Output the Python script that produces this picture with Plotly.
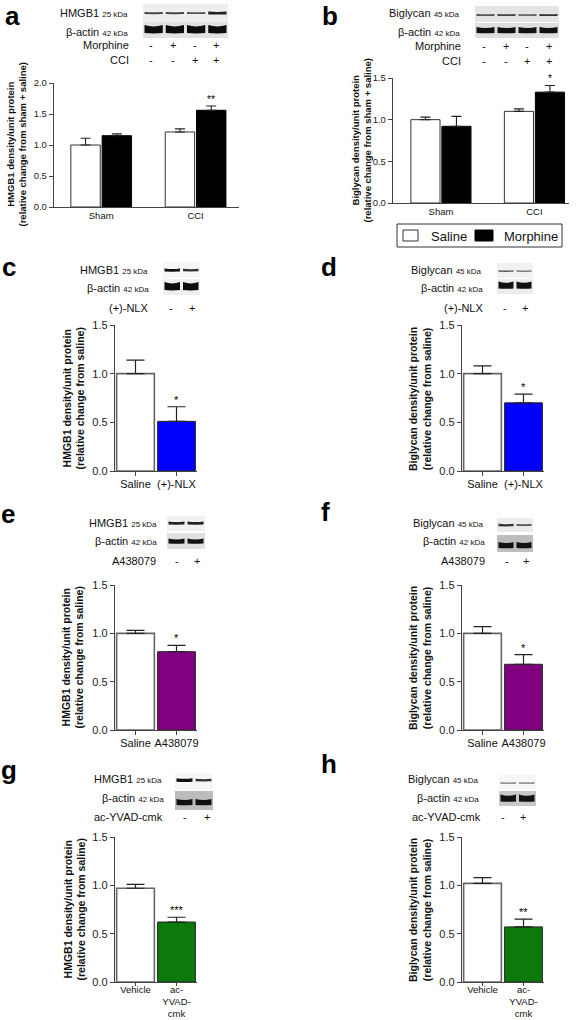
import plotly.graph_objects as go

W, H = 581, 1020
FONT = "Liberation Sans, Arial, sans-serif"

# ---------------- data ----------------
ab_groups = ["Sham", "CCI"]
a_saline = [1.00, 1.21]
a_saline_err = [0.11, 0.05]
a_morphine = [1.15, 1.56]
a_morphine_err = [0.03, 0.07]
a_stars = ["", "**"]

b_saline = [1.00, 1.10]
b_saline_err = [0.03, 0.03]
b_morphine = [0.92, 1.33]
b_morphine_err = [0.12, 0.08]
b_stars = ["", "*"]

legend_names = ["Saline", "Morphine"]

c_labels = ["Saline", "(+)-NLX"]
c_values = [1.00, 0.51]
c_err = [0.14, 0.15]
c_stars = ["", "*"]

d_labels = ["Saline", "(+)-NLX"]
d_values = [1.00, 0.70]
d_err = [0.08, 0.09]
d_stars = ["", "*"]

e_labels = ["Saline", "A438079"]
e_values = [1.00, 0.81]
e_err = [0.03, 0.065]
e_stars = ["", "*"]

f_labels = ["Saline", "A438079"]
f_values = [1.00, 0.68]
f_err = [0.07, 0.10]
f_stars = ["", "*"]

g_labels = ["Vehicle", "ac-<br>YVAD-<br>cmk"]
g_values = [0.97, 0.62]
g_err = [0.04, 0.05]
g_stars = ["", "***"]

h_labels = ["Vehicle", "ac-<br>YVAD-<br>cmk"]
h_values = [1.02, 0.57]
h_err = [0.06, 0.08]
h_stars = ["", "**"]

# ---------------- helpers ----------------
def px(x):
    return x / W


def py(y):
    return 1 - y / H


BARGAP = 0.337
BARGROUPGAP = 0.06

fig = go.Figure()
annotations = []
shapes = []

axis_common = dict(showline=True, linecolor="#444", linewidth=1.2, showgrid=False,
                   zeroline=False, tickcolor="#444", ticks="outside", automargin=False)


def add_axes(i, xdom, ydom, xrange, yrange, tickvals, ticktext, fs, xticks, standoff=0, xfs=None,
             xticklen=4):
    xa = "xaxis" if i == 1 else f"xaxis{i}"
    ya = "yaxis" if i == 1 else f"yaxis{i}"
    fig.layout[xa] = dict(axis_common, domain=[px(xdom[0]), px(xdom[1])],
                          anchor=f"y{i}" if i > 1 else "y", range=xrange,
                          tickvals=tickvals, ticktext=ticktext,
                          ticks="outside" if xticks else "", ticklen=xticklen if xticks else 0,
                          ticklabelstandoff=standoff,
                          tickfont=dict(size=xfs or fs, color="#111", family=FONT))
    fig.layout[ya] = dict(axis_common, domain=[py(ydom[1]), py(ydom[0])],
                          anchor=f"x{i}" if i > 1 else "x", range=yrange, dtick=0.5,
                          tickformat=".1f", ticklen=4,
                          tickfont=dict(size=fs, color="#222", family=FONT))


def ytitle(text, xc, yc, fs):
    annotations.append(dict(xref="paper", yref="paper", x=px(xc), y=py(yc), text=f"<b>{text}</b>",
                            textangle=-90, showarrow=False, font=dict(size=fs, family=FONT, color="#111"),
                            xanchor="center", yanchor="middle"))


def label(text, x, y, fs=11, anchor="right", bold=False, color="#111"):
    t = f"<b>{text}</b>" if bold else text
    annotations.append(dict(xref="paper", yref="paper", x=px(x), y=py(y), text=t, showarrow=False,
                            font=dict(size=fs, family=FONT, color=color), xanchor=anchor,
                            yanchor="middle"))


def rect(x0, y0, x1, y1, color, line=None):
    shapes.append(dict(type="rect", xref="paper", yref="paper", x0=px(x0), x1=px(x1),
                       y0=py(y1), y1=py(y0), fillcolor=color,
                       line=line or dict(width=0), layer="above"))


def band(x0, x1, yc, th, color):
    xm = (x0 + x1) / 2
    path = (f"M {px(x0)},{py(yc - th/2)} Q {px(xm)},{py(yc - th/2 + th*0.35)} {px(x1)},{py(yc - th/2)} "
            f"L {px(x1)},{py(yc + th/2)} Q {px(xm)},{py(yc + th/2 + th*0.1)} {px(x0)},{py(yc + th/2)} Z")
    shapes.append(dict(type="path", xref="paper", yref="paper", path=path, fillcolor=color,
                       line=dict(width=0), layer="above"))


def blot(x0, x1, n, top, bottom):
    lane_w = (x1 - x0) / n
    for strip in (top, bottom):
        rect(x0, strip["y0"], x1, strip["y1"], strip["bg"])
        for k in range(n):
            lx0 = x0 + k * lane_w + 1.5
            lx1 = x0 + (k + 1) * lane_w - 1.5
            th = strip["th"][k] if isinstance(strip["th"], list) else strip["th"]
            col = strip["col"][k] if isinstance(strip["col"], list) else strip["col"]
            band(lx0, lx1, strip["yc"], th, col)


# ---------------- panel a & b (grouped) ----------------
group_specs = [
    dict(i=1, sal=a_saline, sal_e=a_saline_err, mor=a_morphine, mor_e=a_morphine_err, stars=a_stars,
         xdom=(54, 239), ydom=(83, 207), xr=[-0.5, 1.46], yr=[0, 2.0]),
    dict(i=2, sal=b_saline, sal_e=b_saline_err, mor=b_morphine, mor_e=b_morphine_err, stars=b_stars,
         xdom=(393, 569), ydom=(78, 203), xr=[-0.513, 1.37], yr=[0, 1.5]),
]
idx = list(range(len(ab_groups)))
for s in group_specs:
    xs = "x" if s["i"] == 1 else f"x{s['i']}"
    ys = "y" if s["i"] == 1 else f"y{s['i']}"
    fig.add_trace(go.Bar(x=idx, y=s["sal"], name=legend_names[0], xaxis=xs, yaxis=ys,
                         marker=dict(color="white", line=dict(color="#333", width=1)),
                         error_y=dict(type="data", array=s["sal_e"], arrayminus=[0] * len(idx),
                                      symmetric=False, color="#222", thickness=1.1, width=5),
                         showlegend=False))
    fig.add_trace(go.Bar(x=idx, y=s["mor"], name=legend_names[1], xaxis=xs, yaxis=ys,
                         marker=dict(color="black", line=dict(color="black", width=1)),
                         error_y=dict(type="data", array=s["mor_e"], arrayminus=[0] * len(idx),
                                      symmetric=False, color="#222", thickness=1.1, width=5),
                         showlegend=False))
    add_axes(s["i"], s["xdom"], s["ydom"], s["xr"], s["yr"], idx, ab_groups, 9.5, False, standoff=-1)
    off = (1 - BARGAP) / 4
    for k in idx:
        if s["stars"][k]:
            annotations.append(dict(xref=xs, yref=ys, x=k + off, y=s["mor"][k] + s["mor_e"][k],
                                    text=s["stars"][k], showarrow=False, yanchor="bottom",
                                    font=dict(size=10, family=FONT, color="#000000"), yshift=-1))

# ---------------- panels c-h ----------------
single_specs = [
    dict(i=3, labels=c_labels, vals=c_values, err=c_err, stars=c_stars, color="#0000FF",
         xdom=(115, 197), ydom=(325, 471)),
    dict(i=4, labels=d_labels, vals=d_values, err=d_err, stars=d_stars, color="#0000FF",
         xdom=(462, 544), ydom=(325, 471)),
    dict(i=5, labels=e_labels, vals=e_values, err=e_err, stars=e_stars, color="#800080",
         xdom=(115, 197), ydom=(585, 730)),
    dict(i=6, labels=f_labels, vals=f_values, err=f_err, stars=f_stars, color="#800080",
         xdom=(462, 544), ydom=(585, 730)),
    dict(i=7, labels=g_labels, vals=g_values, err=g_err, stars=g_stars, color="#0B7A0B",
         xdom=(115, 197), ydom=(837, 982)),
    dict(i=8, labels=h_labels, vals=h_values, err=h_err, stars=h_stars, color="#0B7A0B",
         xdom=(462, 544), ydom=(837, 982)),
]
for s in single_specs:
    xs, ys = f"x{s['i']}", f"y{s['i']}"
    n = list(range(len(s["vals"])))
    fig.add_trace(go.Bar(x=n, y=s["vals"], xaxis=xs, yaxis=ys, width=0.92, showlegend=False,
                         marker=dict(color=["white", s["color"]],
                                     line=dict(color=["#666", "#222"], width=[1.6, 1])),
                         error_y=dict(type="data", array=s["err"], arrayminus=[0] * len(n),
                                      symmetric=False, color="#222", thickness=1.2, width=9)))
    big = s["i"] >= 7
    add_axes(s["i"], s["xdom"], s["ydom"], [-0.5, 1.5], [0, 1.5], n, s["labels"], 11, True,
             standoff=-5 if big else -1, xfs=9.5 if big else 11, xticklen=3 if big else 4)
    for k in n:
        if s["stars"][k]:
            annotations.append(dict(xref=xs, yref=ys, x=k, y=s["vals"][k] + s["err"][k],
                                    text=s["stars"][k], showarrow=False, yanchor="bottom",
                                    font=dict(size=11, family=FONT, color="#000000"), yshift=-1))

# ---------------- legend (drawn) ----------------
rect(397, 224, 562, 247, "rgba(0,0,0,0)", line=dict(color="#333", width=1))
rect(403, 230, 418, 241, "white", line=dict(color="#333", width=1))
rect(475, 230, 493, 241, "black", line=dict(color="black", width=1))
label(legend_names[0], 429, 236, fs=13, anchor="left")
label(legend_names[1], 502, 236, fs=13, anchor="left")

# ---------------- y-axis titles ----------------
ytitle("HMGB1 density/unit protein<br>(relative change from sham + saline)", 16.5, 145, 9.5)
ytitle("Biglycan density/unit protein<br>(relative change from sham + saline)", 361.5, 141, 9.5)
for xc, yc, prot in [(73.5, 399, "HMGB1"), (420, 399, "Biglycan"),
                     (72.5, 658, "HMGB1"), (420, 658, "Biglycan"),
                     (74.5, 910, "HMGB1"), (420, 910, "Biglycan")]:
    ytitle(f"{prot} density/unit protein<br>(relative change from saline)", xc, yc, 10.5)

# ---------------- panel letters ----------------
for letter, x, y in [("a", 3, 16), ("b", 320, 16), ("c", 0, 267), ("d", 319, 267),
                     ("e", -1, 514), ("f", 319, 512), ("g", -1, 770), ("h", 319, 764)]:
    label(letter, x, y, fs=26, anchor="left", bold=True, color="#000")

# ---------------- blot labels ----------------
def kda(name, k):
    return f"{name} <span style='font-size:8px'>{k} kDa</span>"

blot_labels = [
    (kda("HMGB1", 25), 130, 13), (kda("β-actin", 42), 130, 32),
    (kda("Biglycan", 45), 462, 13), (kda("β-actin", 42), 462, 32),
    (kda("HMGB1", 25), 150, 270), (kda("β-actin", 42), 151, 288),
    (kda("Biglycan", 45), 484, 270), (kda("β-actin", 42), 485, 288),
    (kda("HMGB1", 25), 159, 523), (kda("β-actin", 42), 159, 541),
    (kda("Biglycan", 45), 486, 523), (kda("β-actin", 42), 487, 541),
    (kda("HMGB1", 25), 164, 779), (kda("β-actin", 42), 166, 798),
    (kda("Biglycan", 45), 481, 779), (kda("β-actin", 42), 481, 798),
]
for t, x, y in blot_labels:
    label(t, x, y, fs=11)

treat_rows = [
    ("Morphine", 131, 45, [151, 173, 195, 216], ["-", "+", "-", "+"]),
    ("CCI", 131, 60, [151, 173, 195, 216], ["-", "-", "+", "+"]),
    ("Morphine", 463, 46, [484, 506, 527, 549], ["-", "+", "-", "+"]),
    ("CCI", 463, 61, [484, 506, 527, 549], ["-", "-", "+", "+"]),
    ("(+)-NLX", 150, 308, [171, 192], ["-", "+"]),
    ("(+)-NLX", 485, 308, [505, 525], ["-", "+"]),
    ("A438079", 158, 561, [177, 197], ["-", "+"]),
    ("A438079", 487, 561, [507, 526], ["-", "+"]),
    ("ac-YVAD-cmk", 165, 817, [185, 207], ["-", "+"]),
    ("ac-YVAD-cmk", 483, 817, [503, 523], ["-", "+"]),
]
for name, x, y, sx, sy in treat_rows:
    label(name, x, y, fs=11)
    for xx, sym in zip(sx, sy):
        label(sym, xx, y, fs=11, anchor="center")

# ---------------- blot images (decorative) ----------------
blot(143, 228, 4, dict(y0=4, y1=22, bg="#eeeeee", yc=13, th=[2.2, 2.2, 2, 2.8], col=["#444", "#444", "#555", "#222"]),
     dict(y0=22, y1=38, bg="#e2e2e2", yc=29, th=8, col="#0d0d0d"))
blot(475, 559, 4, dict(y0=6, y1=22, bg="#e4e4e4", yc=15, th=2, col=["#555", "#444", "#666", "#333"]),
     dict(y0=23, y1=38, bg="#dedede", yc=30, th=6, col="#111"))
blot(163, 200, 2, dict(y0=262, y1=278, bg="#f6f6f6", yc=270, th=[3, 2.5], col=["#111", "#333"]),
     dict(y0=279, y1=295, bg="#efefef", yc=286, th=8, col="#0d0d0d"))
blot(497, 533, 2, dict(y0=263, y1=278, bg="#f1f1f1", yc=271, th=1.6, col=["#555", "#777"]),
     dict(y0=279, y1=294, bg="#ececec", yc=285, th=7, col="#111"))
blot(167, 205, 2, dict(y0=516, y1=531, bg="#f1f1f1", yc=523, th=3, col="#222"),
     dict(y0=533, y1=549, bg="#e0e0e0", yc=541, th=5, col="#111"))
blot(497, 533, 2, dict(y0=518, y1=532, bg="#ebebeb", yc=525, th=[2.5, 2], col=["#333", "#555"]),
     dict(y0=535, y1=552, bg="#bdbdbd", yc=545, th=6, col="#111"))
blot(175, 213, 2, dict(y0=773, y1=789, bg="#f6f6f6", yc=780, th=[3.5, 2.5], col=["#111", "#333"]),
     dict(y0=791, y1=810, bg="#bcbcbc", yc=802, th=6, col="#111"))
blot(499, 536, 2, dict(y0=775, y1=789, bg="#f6f6f6", yc=783, th=1.5, col="#777"),
     dict(y0=791, y1=806, bg="#c8c8c8", yc=798, th=7, col="#111"))

fig.update_layout(
    width=W, height=H, margin=dict(l=0, r=0, t=0, b=0, pad=0, autoexpand=False),
    paper_bgcolor="white", plot_bgcolor="white",
    barmode="group", bargap=BARGAP, bargroupgap=BARGROUPGAP,
    font=dict(family=FONT, color="#111"),
    annotations=annotations, shapes=shapes, showlegend=False,
)

fig.write_html("out.html", config={"displayModeBar": False, "staticPlot": True},
               post_script="document.body.style.margin='0';")
